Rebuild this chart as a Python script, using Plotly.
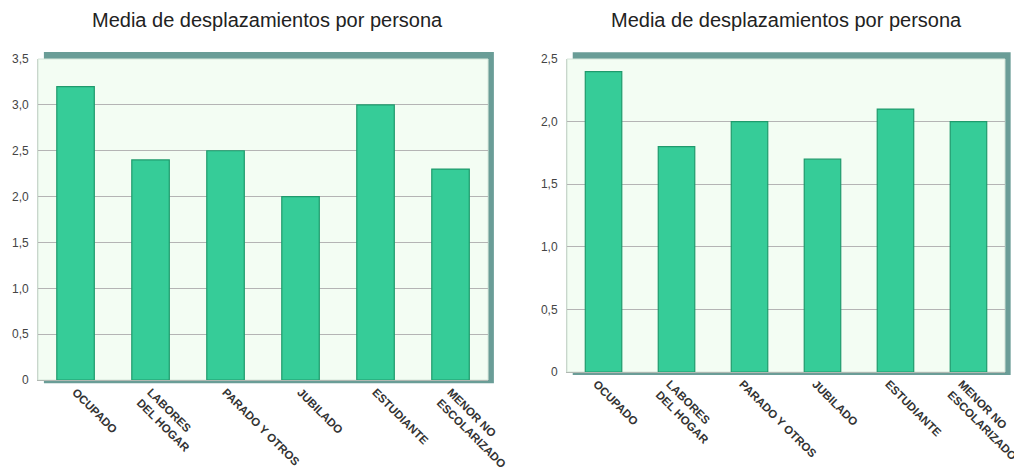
import plotly.graph_objects as go
from plotly.subplots import make_subplots

# Data
categories = ["OCUPADO", "LABORES<br>DEL HOGAR", "PARADO Y OTROS",
              "JUBILADO", "ESTUDIANTE", "MENOR NO<br>ESCOLARIZADO"]
left_values = [3.2, 2.4, 2.5, 2.0, 3.0, 2.3]
right_values = [2.4, 1.8, 2.0, 1.7, 2.1, 2.0]
left_ticks = [0, 0.5, 1.0, 1.5, 2.0, 2.5, 3.0, 3.5]
left_ticktext = ["0", "0,5", "1,0", "1,5", "2,0", "2,5", "3,0", "3,5"]
right_ticks = [0, 0.5, 1.0, 1.5, 2.0, 2.5]
right_ticktext = ["0", "0,5", "1,0", "1,5", "2,0", "2,5"]
title = "Media de desplazamientos por persona"

BAR = "#36cc98"
BAR_EDGE = "#1f9a6c"
PANEL = "#f3fdf3"
SHADOW = "#6a9d97"
GRID = "#b4b4b4"
FONT = "Liberation Sans, Arial, sans-serif"

fig = make_subplots(rows=1, cols=2)

for col, vals in ((1, left_values), (2, right_values)):
    fig.add_trace(go.Bar(
        x=categories, y=vals, width=0.5,
        marker=dict(color=BAR, line=dict(color=BAR_EDGE, width=1.2)),
        showlegend=False,
    ), row=1, col=col)

axis_common = dict(showgrid=True, gridcolor=GRID, gridwidth=1,
                   zeroline=False, showline=True, linecolor="#c9d6cc",
                   ticks="", automargin=False, ticklabelstandoff=6,
                   tickfont=dict(size=12, color="#444"))
xaxis_common = dict(showgrid=False, showline=True, linecolor="#b0b8b2",
                    tickangle=45, ticks="", automargin=False,
                    tickfont=dict(size=11.5, color="#333", weight="bold"))

# the page body adds an 8px offset, so domains are shifted to compensate
fig.update_layout(
    width=1022, height=475,
    paper_bgcolor="white", plot_bgcolor="rgba(0,0,0,0)",
    margin=dict(l=0, r=0, t=0, b=0),
    font=dict(family=FONT, color="#333"),
    xaxis=dict(domain=[0.0294, 0.4697], **xaxis_common),
    xaxis2=dict(domain=[0.547, 0.9755], ticklabelshift=-7, **xaxis_common),
    yaxis=dict(domain=[0.2168, 0.8926], range=[0, 3.5], tickvals=left_ticks,
               ticktext=left_ticktext, **axis_common),
    yaxis2=dict(domain=[0.2337, 0.8926], range=[0, 2.5], tickvals=right_ticks,
                ticktext=right_ticktext, **axis_common),
)

# panel shadow + background, drawn beneath the grid
shapes = []
for xr, yr in (("x domain", "y domain"), ("x2 domain", "y2 domain")):
    shapes.append(dict(type="rect", xref=xr, yref=yr, layer="below",
                       x0=0.013, x1=1.013, y0=-0.01, y1=1.022,
                       fillcolor=SHADOW, line=dict(width=0)))
    shapes.append(dict(type="rect", xref=xr, yref=yr, layer="below",
                       x0=0, x1=1, y0=0, y1=1,
                       fillcolor=PANEL, line=dict(color="#d6e6da", width=1)))
fig.update_layout(shapes=shapes)

for xc in (0.2544, 0.7613):
    fig.add_annotation(text=title, x=xc, y=0.9747, xref="paper", yref="paper",
                       xanchor="center", yanchor="middle", showarrow=False,
                       font=dict(size=20, color="#222"))

fig.write_html("out.html")
